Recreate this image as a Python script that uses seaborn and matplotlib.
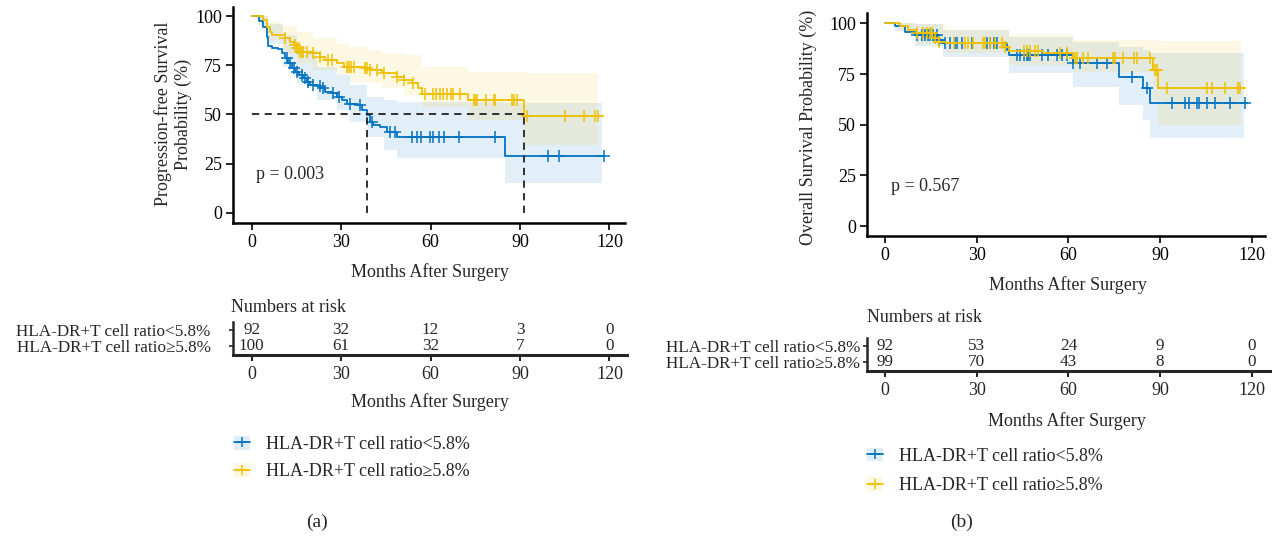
import numpy as np
import matplotlib
matplotlib.use("Agg")
import matplotlib.pyplot as plt
import seaborn as sns
from matplotlib.patches import Patch
from matplotlib.lines import Line2D

# ---------------- data ----------------
group_labels = ["HLA-DR+T cell ratio<5.8%", "HLA-DR+T cell ratio\u22655.8%"]
risk_times = [0, 30, 60, 90, 120]

# (a) progression-free survival, low group
pfs_low_t = [0, 2.5, 3.9, 5.0, 5.6, 6.7, 8.9, 10.0, 11.2, 12.3, 13.4, 14.5, 15.7, 17.3,
             18.5, 19.6, 21.8, 23.0, 24.6, 26.8, 28.5, 30.2, 31.9, 35.8, 36.9, 38.8,
             39.7, 40.8, 43.0, 45.3, 48.7, 85.0]
pfs_low_s = [100, 97.5, 94.6, 89.5, 85.0, 84.0, 83.0, 81.0, 78.5, 76.0, 73.4, 71.7, 70.0,
             68.3, 66.6, 65.0, 64.4, 63.2, 61.5, 60.7, 59.0, 57.3, 55.3, 54.7, 52.2, 49.7,
             46.3, 44.6, 43.7, 41.2, 38.6, 28.8]
pfs_low_end = 118.0
pfs_low_cens = [11.7, 12.9, 14.0, 15.1, 16.8, 17.9, 19.0, 20.7, 22.9, 24.0, 27.4, 29.1,
                33.0, 36.4, 40.3, 46.2, 48.1, 53.7, 55.4, 56.7, 59.8, 60.7, 62.8, 64.5,
                69.4, 81.5, 99.3, 103.2, 118.0]
pfs_low_ci_t = [0, 2.5, 5.6, 10.6, 15.1, 21.8, 28.5, 33.0, 38.6, 44.2, 48.7, 85.0, 117.4]
pfs_low_ci_lo = [100, 95, 86, 74, 65.8, 57.3, 52.2, 46.3, 38.6, 31.9, 27.6, 14.9, 14.9]
pfs_low_ci_hi = [100, 100, 96, 90.3, 82.7, 74.2, 70, 65, 59, 57.5, 56.5, 55.6, 55.6]

# (a) progression-free survival, high group
pfs_high_t = [0, 3.9, 5.0, 6.2, 6.7, 11.2, 12.9, 14.0, 15.1, 16.2, 20.7, 22.9, 24.6, 28.5,
              30.8, 37.5, 39.7, 43.6, 48.7, 50.9, 53.7, 55.9, 57.0, 72.7, 91.2]
pfs_high_s = [100, 98.0, 94.6, 92.0, 90.3, 88.6, 87.0, 85.3, 83.6, 81.9, 81.0, 79.3, 77.6,
              75.9, 74.2, 73.4, 72.5, 70.8, 69.2, 67.5, 65.8, 63.2, 60.6, 57.4, 49.3]
pfs_high_end = 117.4
pfs_high_cens = [11.2, 14.5, 15.1, 15.7, 16.2, 16.8, 17.3, 18.5, 20.7, 22.9, 25.7, 26.8,
                 31.9, 32.7, 33.4, 34.2, 38.0, 38.8, 39.7, 42.0, 44.2, 48.7, 50.9, 54.2,
                 58.1, 60.9, 61.8, 63.2, 64.3, 65.4, 66.8, 67.5, 69.9, 74.4, 74.9, 75.5,
                 78.6, 81.1, 81.6, 87.2, 87.8, 88.9, 92.3, 105.1, 111.3, 115.2, 116.3]
pfs_high_ci_t = [0, 2.8, 5.6, 10.0, 15.1, 20.7, 28.5, 33.0, 38.6, 43.6, 50.9, 57.0, 72.7,
                 91.2, 116.3]
pfs_high_ci_lo = [100, 96, 87.8, 81, 75.9, 72.5, 70, 66.6, 65.8, 63.2, 59.8, 53.9, 47.3,
                  34.4, 34.4]
pfs_high_ci_hi = [100, 100, 97, 95, 92, 89, 86, 84.5, 82.7, 81, 80.2, 74.2, 71.7, 70.8,
                  70.8]
pfs_medians = [38.8, 91.2]
pfs_p = "p = 0.003"
pfs_risk_low = [92, 32, 12, 3, 0]
pfs_risk_high = [100, 61, 32, 7, 0]

# (b) overall survival, low group
os_low_t = [0, 3.3, 6.5, 9.8, 17.0, 19.1, 39.8, 40.4, 61.6, 76.4, 84.3, 86.7]
os_low_s = [100, 98.7, 95.9, 94.2, 91.8, 90.1, 86.8, 84.4, 80.6, 73.7, 67.9, 60.9]
os_low_end = 118.3
os_low_cens = [10.4, 12.0, 13.1, 14.2, 14.7, 15.8, 16.9, 17.5, 19.6, 21.3, 22.9, 23.5,
               25.1, 28.4, 33.3, 34.4, 35.5, 36.6, 43.1, 44.2, 45.3, 46.3, 46.9, 47.4,
               51.3, 53.4, 56.2, 57.8, 59.5, 61.6, 63.8, 69.3, 72.5, 80.7, 85.6, 93.8,
               98.2, 99.3, 102.0, 102.6, 105.3, 108.1, 113.0, 117.8]
os_low_ci_t = [0, 3.3, 9.8, 19.1, 40.4, 61.6, 76.4, 84.3, 86.7, 117.3]
os_low_ci_lo = [100, 96, 88.8, 83.6, 75.3, 68.4, 59.7, 52.3, 43.3, 43.3]
os_low_ci_hi = [100, 100, 99.5, 96.5, 93.4, 91, 88.5, 87, 85.2, 85.2]

# (b) overall survival, high group
os_high_t = [0, 4.9, 7.5, 10.4, 15.5, 17.5, 20.0, 38.7, 40.5, 51.8, 61.6, 87.8, 89.4]
os_high_s = [100, 98.7, 96.7, 95.0, 92.6, 91.0, 90.1, 88.5, 86.5, 85.2, 83.1, 77.0, 67.9]
os_high_end = 117.3
os_high_cens = [10.4, 12.5, 13.6, 14.7, 15.3, 16.4, 17.5, 22.4, 26.2, 27.3, 28.9, 32.2,
                32.7, 34.4, 36.0, 38.2, 39.3, 45.3, 46.3, 47.4, 49.1, 50.2, 57.3, 59.5,
                62.2, 62.7, 64.9, 66.5, 74.7, 75.3, 78.0, 81.3, 82.4, 86.8, 88.4, 88.9,
                92.2, 105.3, 106.9, 111.2, 115.6, 116.2]
os_high_ci_t = [0, 4.9, 10.4, 20.0, 40.5, 61.6, 87.8, 89.4, 116.3]
os_high_ci_lo = [100, 96, 90, 85.2, 79.4, 76.2, 62.2, 49.8, 49.8]
os_high_ci_hi = [100, 100, 99.5, 96.5, 94.2, 91.8, 91.6, 91.4, 91.4]
os_p = "p = 0.567"
os_risk_low = [92, 53, 24, 9, 0]
os_risk_high = [99, 70, 43, 8, 0]

# ---------------- style ----------------
sns.set_style("ticks")
plt.rcParams["font.family"] = ["Liberation Serif", "DejaVu Serif"]
FS = 13
FS_TAB = 12.3
BLUE = "#0073C2"
YELLOW = "#EFC000"
COLORS = [BLUE, YELLOW]

W, H = 1272, 537
fig = plt.figure(figsize=(W / 100, H / 100), dpi=100)


def px_axes(x0, y0, x1, y1):
    """Axes from pixel box (left, top, right, bottom)."""
    return fig.add_axes([x0 / W, 1 - y1 / H, (x1 - x0) / W, (y1 - y0) / H])


def step_at(t, s, x):
    idx = np.searchsorted(np.asarray(t), np.asarray(x), side="right") - 1
    return np.asarray(s)[idx]


def km_curve(ax, t, s, end, cens, ci_t, ci_lo, ci_hi, color):
    ax.fill_between(ci_t, ci_lo, ci_hi, step="post", color=color, alpha=0.11, lw=0)
    tt = list(t) + [end]
    ss = list(s) + [s[-1]]
    sns.lineplot(x=tt, y=ss, ax=ax, color=color, lw=1.3, drawstyle="steps-post",
                 estimator=None, sort=False, legend=False)
    ax.plot(cens, step_at(t, s, cens), ls="none", marker="+", ms=8, mew=1.1,
            color=color)


def style_main(ax):
    ax.set_xlim(-6.3, 125.2)
    ax.set_ylim(-5.2, 104.6)
    ax.set_xticks(risk_times)
    ax.set_yticks([0, 25, 50, 75, 100])
    sns.despine(ax=ax)
    for sp in ("left", "bottom"):
        ax.spines[sp].set_linewidth(1.8)
        ax.spines[sp].set_color("black")
    ax.tick_params(length=5, width=1.2, colors="black", labelsize=FS, pad=3)
    ax.set_xlabel("")
    ax.set_ylabel("")


def risk_table(ax, low, high, rows, label_pad, xlim):
    ax.set_xlim(*xlim)
    ax.set_ylim(0, 1)
    for vals, yv in zip([low, high], rows):
        for x, v in zip(risk_times, vals):
            ax.text(x, yv, str(v), ha="center", va="center", fontsize=FS_TAB)
    ax.set_xticks(risk_times)
    ax.set_yticks(rows)
    ax.set_yticklabels(group_labels, fontsize=FS_TAB)
    sns.despine(ax=ax)
    ax.spines["bottom"].set_linewidth(2.2)
    ax.spines["left"].set_linewidth(1.8)
    ax.tick_params(axis="x", length=4, width=1.5, labelsize=FS, pad=4)
    ax.tick_params(axis="y", length=3, width=1.2, pad=label_pad)
    ax.patch.set_alpha(0)


def legend_at(x_px, y_px, spacing):
    handles = [(Patch(facecolor=c, alpha=0.12, edgecolor="none"),
                Line2D([], [], color=c, lw=1.3, marker="+", ms=7, mew=1.1))
               for c in COLORS]
    fig.legend(handles, group_labels, loc="center left",
               bbox_to_anchor=(x_px / W, 1 - y_px / H), frameon=False,
               fontsize=FS, handlelength=0.9, handleheight=0.8, handletextpad=0.85,
               labelspacing=spacing, borderpad=0, borderaxespad=0)


# ---------------- panel (a) ----------------
ax_a = px_axes(233, 7, 625, 223)
km_curve(ax_a, pfs_low_t, pfs_low_s, pfs_low_end, pfs_low_cens,
         pfs_low_ci_t, pfs_low_ci_lo, pfs_low_ci_hi, BLUE)
km_curve(ax_a, pfs_high_t, pfs_high_s, pfs_high_end, pfs_high_cens,
         pfs_high_ci_t, pfs_high_ci_lo, pfs_high_ci_hi, YELLOW)
ax_a.plot([0, max(pfs_medians)], [50, 50], ls=(0, (4, 3)), color="#222222", lw=1.3)
for m in pfs_medians:
    ax_a.plot([m, m], [0, 50], ls=(0, (4, 3)), color="#222222", lw=1.3)
ax_a.text(1.5, 19.7, pfs_p, ha="left", va="center", fontsize=FS)
style_main(ax_a)
fig.text(173 / W, 1 - 114 / H, "Progression-free Survival\nProbability (%)",
         rotation=90, ha="center", va="center", fontsize=FS, linespacing=1.2)
fig.text(430 / W, 1 - 272 / H, "Months After Surgery", ha="center", va="center",
         fontsize=FS)

tab_a = px_axes(233, 322, 627, 355)
risk_table(tab_a, pfs_risk_low, pfs_risk_high, [0.77, 0.27], 13, (-6.3, 125.9))
fig.text(231 / W, 1 - 307 / H, "Numbers at risk", ha="left", va="center", fontsize=FS)
fig.text(430 / W, 1 - 402 / H, "Months After Surgery", ha="center", va="center",
         fontsize=FS)
legend_at(234, 458, 0.55)
fig.text(317 / W, 1 - 522 / H, "(a)", ha="center", va="center", fontsize=FS + 1)

# ---------------- panel (b) ----------------
ax_b = px_axes(867, 13, 1265, 236)
km_curve(ax_b, os_low_t, os_low_s, os_low_end, os_low_cens,
         os_low_ci_t, os_low_ci_lo, os_low_ci_hi, BLUE)
km_curve(ax_b, os_high_t, os_high_s, os_high_end, os_high_cens,
         os_high_ci_t, os_high_ci_lo, os_high_ci_hi, YELLOW)
ax_b.text(2.0, 19.4, os_p, ha="left", va="center", fontsize=FS)
style_main(ax_b)
ax_b.set_xlim(-5.9, 124.3)
ax_b.set_ylim(-4.9, 105.1)
fig.text(808 / W, 1 - 127 / H, "Overall Survival Probability (%)", rotation=90,
         ha="center", va="center", fontsize=FS)
fig.text(1068 / W, 1 - 285 / H, "Months After Surgery", ha="center", va="center",
         fontsize=FS)

tab_b = px_axes(867, 338, 1271, 371)
risk_table(tab_b, os_risk_low, os_risk_high, [0.76, 0.26], 2, (-5.9, 126.3))
fig.text(867 / W, 1 - 317 / H, "Numbers at risk", ha="left", va="center", fontsize=FS)
fig.text(1067 / W, 1 - 421 / H, "Months After Surgery", ha="center", va="center",
         fontsize=FS)
legend_at(867, 471, 0.7)
fig.text(962 / W, 1 - 522 / H, "(b)", ha="center", va="center", fontsize=FS + 1)

fig.savefig("out.png", dpi=100, facecolor="white")
